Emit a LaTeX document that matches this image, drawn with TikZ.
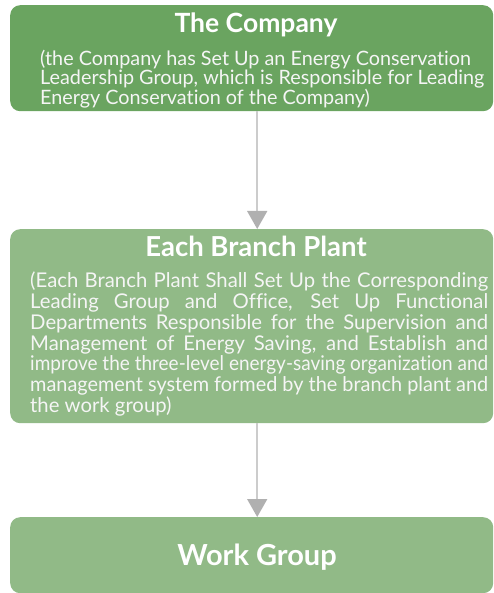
\documentclass[tikz,border=0pt]{standalone}
\usepackage{fontspec}
\setmainfont{Lato}[Ligatures=NoCommon]
\usepackage{graphicx}
\usetikzlibrary{arrows.meta}
\definecolor{topgreen}{HTML}{6AA460}
\definecolor{lightgreen}{HTML}{91BA87}
\definecolor{linegray}{HTML}{CCCCCC}
\definecolor{tipgray}{HTML}{B0B0B0}
\newsavebox\jlinebox
\newcommand\jline[1]{\sbox\jlinebox{#1}\ifdim\wd\jlinebox>458pt\resizebox{458pt}{\ht\jlinebox}{#1}\else\makebox[458pt][s]{#1}\fi}
\tikzset{
  panel/.style={draw=none, rounded corners=10pt, minimum width=483pt, anchor=north west, inner sep=0pt},
  titletext/.style={text=white, font=\bfseries, anchor=base, inner sep=0pt},
  bodytext/.style={text=white!96!black, align=left, anchor=base west, inner sep=0pt},
  flow/.style={draw=linegray, line width=1.5pt, -{Triangle[width=20pt,length=18pt,color=tipgray]}}
}
\begin{document}
\begin{tikzpicture}[x=1pt,y=-1pt]
\useasboundingbox (0,0) rectangle (494,593);
\node[panel, fill=topgreen, minimum height=106pt] (company) at (10,5) {};
\node[panel, fill=lightgreen, minimum height=194pt] (branch) at (10,229) {};
\node[panel, fill=lightgreen, minimum height=76pt] (work) at (10,517) {};
\node[titletext, font=\fontsize{26.5}{30}\selectfont\bfseries] (companytitle) at (256,32.7) {The Company};
\node[bodytext, font=\fontsize{19.8}{18.8}\selectfont] (companybody) at (40,104.3) {(the Company has Set Up an Energy Conservation\\Leadership Group, which is Responsible for Leading\\Energy Conservation of the Company)};
\node[titletext, font=\fontsize{27.5}{30}\selectfont\bfseries] (branchtitle) at (256,256) {Each Branch Plant};
\node[bodytext, font=\fontsize{20.3}{20.8}\selectfont] (branchbody) at (30,412.5) {\jline{(Each Branch Plant Shall Set Up the Corresponding}\\\jline{Leading Group and Office, Set Up Functional}\\\jline{Departments Responsible for the Supervision and}\\\jline{Management of Energy Saving, and Establish and}\\\jline{improve the three-level energy-saving organization and}\\\jline{management system formed by the branch plant and}\\the work group)};
\node[titletext, font=\fontsize{29}{32}\selectfont\bfseries] (worktitle) at (257,565) {Work Group};
\draw[flow] ([xshift=5.5pt]company.south) -- ([xshift=5.5pt]branch.north);
\draw[flow] ([xshift=5.5pt]branch.south) -- ([xshift=5.5pt]work.north);
\end{tikzpicture}
\end{document}
